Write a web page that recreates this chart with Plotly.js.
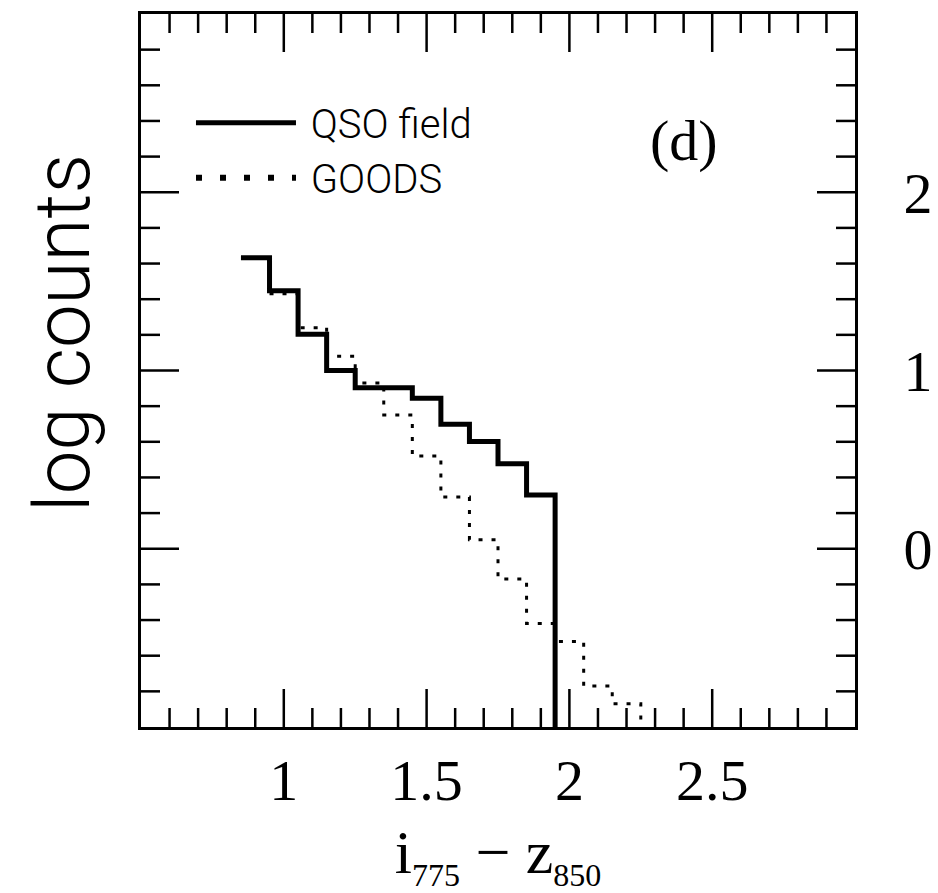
<!DOCTYPE html>
<html>
<head>
<meta charset="utf-8">
<script src="https://cdn.plot.ly/plotly-3.0.1.min.js"></script>
<style>
html,body{margin:0;padding:0;background:#fff;}
#chart{width:938px;height:893px;}
</style>
</head>
<body>
<div id="chart"></div>
<script>
// ---- data ----
var binWidth = 0.1;
var qsoCenters = [0.9, 1.0, 1.1, 1.2, 1.3, 1.4, 1.5, 1.6, 1.7, 1.8, 1.9];
var qsoLogCounts = [1.633, 1.447, 1.204, 1.0, 0.903, 0.903, 0.845, 0.699, 0.602, 0.477, 0.301];
var goodsCenters = [1.0, 1.1, 1.2, 1.3, 1.4, 1.5, 1.6, 1.7, 1.8, 1.9, 2.0, 2.1, 2.2];
var goodsLogCounts = [1.43, 1.24, 1.08, 0.93, 0.75, 0.52, 0.29, 0.05, -0.17, -0.42, -0.52, -0.77, -0.87];
var xTickVals = [1, 1.5, 2, 2.5];
var xTickText = ['1', '1.5', '2', '2.5'];
var yTickVals = [0, 1, 2];
var yTickText = ['0', '1', '2'];
var seriesNames = ['QSO field', 'GOODS'];
var xRange = [0.5, 3.0];
var yRange = [-1, 3];
var xMinorStep = 0.1;
var yMinorStep = 0.2;

// build step outlines from the bins
function stepOutline(centers, vals) {
  var xs = [], ys = [];
  for (var i = 0; i < centers.length; i++) {
    xs.push(centers[i] - binWidth / 2);
    ys.push(vals[i]);
  }
  var lastEdge = centers[centers.length - 1] + binWidth / 2;
  xs.push(lastEdge); ys.push(vals[vals.length - 1]);
  xs.push(lastEdge); ys.push(yRange[0]);   // drop to the floor of the axis
  return {x: xs, y: ys};
}
var qso = stepOutline(qsoCenters, qsoLogCounts);
var goods = stepOutline(goodsCenters, goodsLogCounts);

var serif = 'Liberation Serif, Times New Roman, serif';
var sans = 'Roboto, Liberation Sans, Arial, sans-serif';
var nb = '\u00a0';
var MAJOR_LEN = 38, MINOR_LEN = 19, TICK_W = 2.5;

var traces = [
  {x: goods.x, y: goods.y, mode: 'lines', line: {shape: 'hv', color: '#000', width: 3, dash: '4px,9px'},
   name: seriesNames[1], showlegend: false, hoverinfo: 'skip'},
  {x: qso.x, y: qso.y, mode: 'lines', line: {shape: 'hv', color: '#000', width: 5},
   name: nb + seriesNames[0], showlegend: true, legendrank: 1},
  {x: [null], y: [null], mode: 'lines',
   line: {color: '#000', width: 6, dash: '6px,18px'},
   name: nb + seriesNames[1], showlegend: true, legendrank: 2}
];

// tick marks on all four sides (inside), placed through the axes' scales
function steps(r, d) {
  var out = [], n = Math.round((r[1] - r[0]) / d);
  for (var i = 1; i < n; i++) out.push(+(r[0] + i * d).toFixed(6));
  return out;
}
var shapes = [];
function xTick(v, len) {
  shapes.push({type: 'line', layer: 'above', xref: 'x', yref: 'paper', ysizemode: 'pixel', yanchor: 0,
    x0: v, x1: v, y0: 0, y1: len, line: {color: '#000', width: TICK_W}});
  shapes.push({type: 'line', layer: 'above', xref: 'x', yref: 'paper', ysizemode: 'pixel', yanchor: 1,
    x0: v, x1: v, y0: 0, y1: -len, line: {color: '#000', width: TICK_W}});
}
function yTick(v, len) {
  shapes.push({type: 'line', layer: 'above', xref: 'paper', yref: 'y', xsizemode: 'pixel', xanchor: 0,
    y0: v, y1: v, x0: 0, x1: len, line: {color: '#000', width: TICK_W}});
  shapes.push({type: 'line', layer: 'above', xref: 'paper', yref: 'y', xsizemode: 'pixel', xanchor: 1,
    y0: v, y1: v, x0: 0, x1: -len, line: {color: '#000', width: TICK_W}});
}
steps(xRange, xMinorStep).forEach(function (v) { xTick(v, xTickVals.indexOf(v) >= 0 ? MAJOR_LEN : MINOR_LEN); });
steps(yRange, yMinorStep).forEach(function (v) { yTick(v, yTickVals.indexOf(v) >= 0 ? MAJOR_LEN : MINOR_LEN); });

var base = {
  showgrid: false, zeroline: false, showline: true, linecolor: '#000', linewidth: 3,
  mirror: true, ticks: '', fixedrange: true
};

var layout = {
  width: 938, height: 893,
  margin: {l: 141, r: 83, t: 14, b: 166},
  paper_bgcolor: '#fff', plot_bgcolor: '#fff',
  showlegend: true,
  legend: {x: 0.07, y: 0.893, xanchor: 'left', yanchor: 'top', bgcolor: 'rgba(0,0,0,0)',
           font: {family: sans, size: 40, color: '#000', weight: 300}, itemwidth: 100,
           tracegroupgap: 0},
  xaxis: Object.assign({}, base, {
    range: xRange, tickmode: 'array', tickvals: xTickVals, ticktext: xTickText,
    ticklabelstandoff: 0,
    tickfont: {family: serif, size: 58, color: '#000'},
    title: {text: 'i<sub><span style="font-size:32px">775</span></sub> \u2212 z<sub><span style="font-size:32px">850</span></sub>',
            font: {family: serif, size: 62, color: '#000'}, standoff: 22}
  }),
  yaxis: Object.assign({}, base, {
    range: yRange, side: 'right', tickmode: 'array', tickvals: yTickVals, ticktext: yTickText,
    ticklabelstandoff: 34,
    tickfont: {family: serif, size: 58, color: '#000'}
  }),
  shapes: shapes,
  annotations: [
    {xref: 'paper', yref: 'paper', x: -0.109, y: 0.553, xanchor: 'center', yanchor: 'middle',
     text: 'log counts', textangle: -90,
     showarrow: false, font: {family: sans, size: 78, color: '#000', weight: 300}},
    {xref: 'paper', yref: 'paper', x: 0.76, y: 0.822, xanchor: 'center', yanchor: 'middle',
     text: '(d)', showarrow: false,
     font: {family: serif, size: 58, color: '#000'}}
  ]
};

Plotly.newPlot('chart', traces, layout, {staticPlot: true, displayModeBar: false});
</script>
</body>
</html>
